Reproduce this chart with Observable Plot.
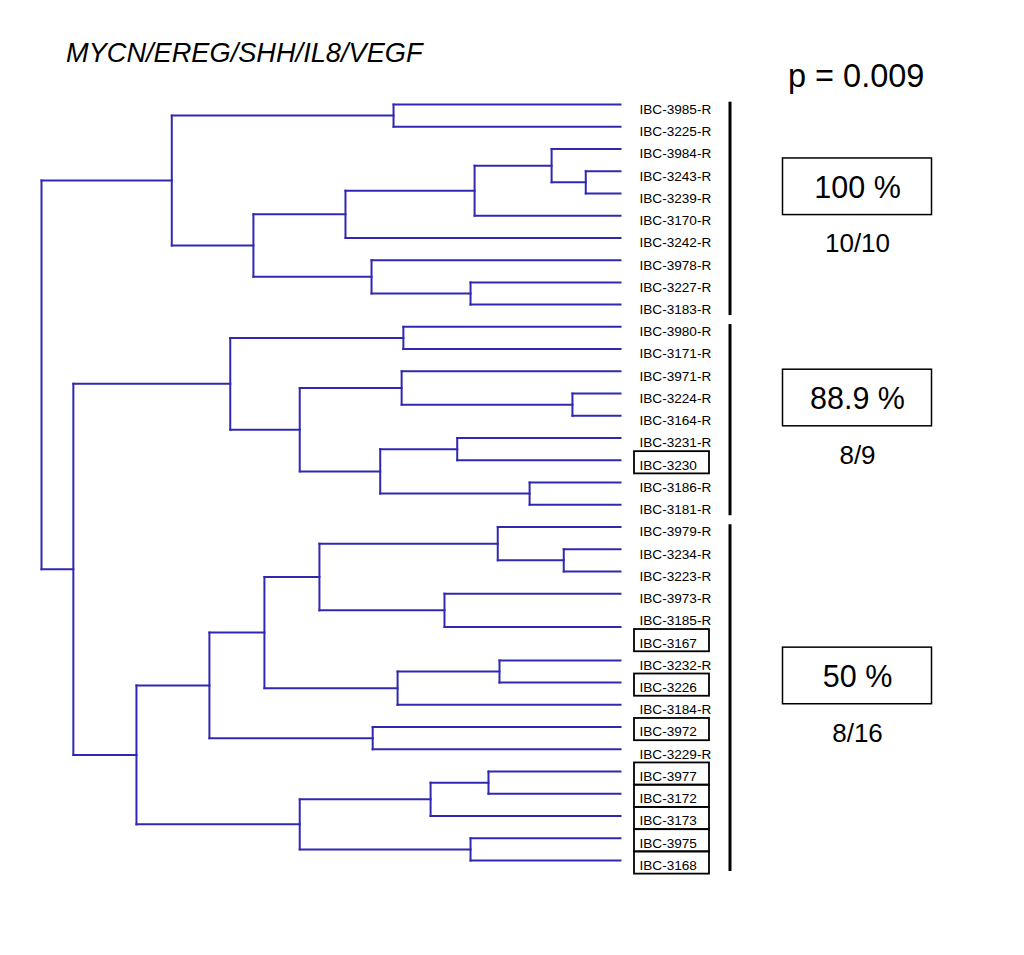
<!DOCTYPE html>
<html>
<head>
<meta charset="utf-8">
<script src="https://cdn.jsdelivr.net/npm/d3@7"></script>
<script src="https://cdn.jsdelivr.net/npm/@observablehq/plot@0.6"></script>
<style>
  html, body { margin: 0; padding: 0; background: #fff; }
  #wrap { position: relative; width: 1024px; height: 955px; font-family: "Liberation Sans", Arial, Helvetica, sans-serif; }
  #title { position: absolute; left: 66px; top: 39px; font-size: 27.2px; line-height: 27px; font-style: italic; color: #000; white-space: nowrap; }
  #pval { position: absolute; left: 788px; top: 60px; font-size: 32.5px; line-height: 32px; color: #000; white-space: nowrap; }
  #chart { position: absolute; left: 0; top: 0; }
</style>
</head>
<body>
<div id="wrap">
  <div id="chart"></div>
  <div id="title">MYCN/EREG/SHH/IL8/VEGF</div>
  <div id="pval">p = 0.009</div>
</div>
<script>
// ---- data ----
const labels = [
  "IBC-3985-R","IBC-3225-R","IBC-3984-R","IBC-3243-R","IBC-3239-R","IBC-3170-R","IBC-3242-R",
  "IBC-3978-R","IBC-3227-R","IBC-3183-R","IBC-3980-R","IBC-3171-R","IBC-3971-R","IBC-3224-R",
  "IBC-3164-R","IBC-3231-R","IBC-3230","IBC-3186-R","IBC-3181-R","IBC-3979-R","IBC-3234-R",
  "IBC-3223-R","IBC-3973-R","IBC-3185-R","IBC-3167","IBC-3232-R","IBC-3226","IBC-3184-R",
  "IBC-3972","IBC-3229-R","IBC-3977","IBC-3172","IBC-3173","IBC-3975","IBC-3168"
];
// dendrogram: [mergeHeight, left, right]; a leaf is the row where its branch is drawn
const topCluster = [7.75,
  [3.92, 0, 1],
  [6.34,
    [4.75, [2.52, [1.19, 2, [0.60, 3, 4]], 5], 6],
    [4.30, 7, [2.59, 8, 9]]
  ]
];
const midCluster = [6.74,
  [3.75, 10, 11],
  [5.54,
    [3.78, 12, [0.83, 13, 14]],
    [4.15, [2.82, 15, 16], [1.57, 17, 18]]
  ]
];
const lowCluster = [8.36,
  [7.10,
    [6.15,
      [5.20, [2.12, 19, [0.98, 20, 21]], [3.04, 22, 23.5]],
      [3.85, [2.09, 25, 26], 27]
    ],
    [4.28, 28, 29]
  ],
  [5.54,
    [3.28, [2.28, 30, 31], 32],
    [2.59, 33, 34]
  ]
];
const tree = [10.0, topCluster, [9.45, midCluster, lowCluster]];

const groupStart = [0, 10, 19];
const groupEnd = [9, 18, 34];
const groupResponders = [10, 8, 8];
const groupTotal = [10, 9, 16];

// ---- build tables ----
const segments = [];
function walk(node) {
  if (typeof node === "number") return {h: 0, y: node};
  const [h, a, b] = node;
  const A = walk(a), B = walk(b);
  segments.push({x1: h, y1: A.y, x2: h, y2: B.y});
  segments.push({x1: h, y1: A.y, x2: A.h, y2: A.y});
  segments.push({x1: h, y1: B.y, x2: B.h, y2: B.y});
  return {h, y: (A.y + B.y) / 2};
}
walk(tree);

const leafRows = labels.map((name, i) => ({name, row: i, boxed: !name.endsWith("-R")}));
const groups = groupStart.map((s, i) => ({
  start: s, end: groupEnd[i], mid: (s + groupEnd[i]) / 2,
  pct: +(groupResponders[i] / groupTotal[i] * 100).toFixed(1) + " %",
  frac: groupResponders[i] + "/" + groupTotal[i]
}));

// ---- layout (pixels) ----
const W = 1024, H = 955;
const xDomain = [10, 0], xRange = [41, 620];
const yDomain = [0, 34], yRange = [104, 860];
const xs = d3.scaleLinear(xDomain, xRange);
const rowPx = (yRange[1] - yRange[0]) / (yDomain[1] - yDomain[0]);
const px = p => xs.invert(p);
const rows = p => p / rowPx;

const chart = Plot.plot({
  width: W, height: H, margin: 0,
  style: {fontFamily: '"Liberation Sans", Arial, Helvetica, sans-serif', background: "transparent", overflow: "visible"},
  x: {domain: xDomain, range: xRange, axis: null},
  y: {domain: yDomain, range: yRange, axis: null},
  marks: [
    Plot.link(segments, {x1: "x1", y1: "y1", x2: "x2", y2: "y2", stroke: "#3128b2", strokeWidth: 2, strokeLinecap: "square"}),
    Plot.rect(leafRows.filter(d => d.boxed), {
      x1: px(634), x2: px(709),
      y1: d => d.row - 0.5 + rows(2.5), y2: d => d.row + 0.5 + rows(2.5),
      fill: "none", stroke: "#000", strokeWidth: 1.8
    }),
    Plot.text(leafRows, {x: 0, y: "row", text: "name", textAnchor: "start", dx: 19, dy: 5, fontSize: 13.6, fill: "#000"}),
    Plot.ruleX(groups, {x: px(729.5), y1: d => d.start - rows(2.3), y2: d => d.end + rows(11), stroke: "#000", strokeWidth: 3}),
    Plot.rect(groups, {
      x1: px(782.5), x2: px(931.5),
      y1: d => d.mid - 0.8 - rows(28.3), y2: d => d.mid - 0.8 + rows(28.3),
      fill: "none", stroke: "#000", strokeWidth: 1.5
    }),
    Plot.text(groups, {x: px(857), y: d => d.mid - 0.8 + rows(1.5), text: "pct", fontSize: 30.5, fill: "#000"}),
    Plot.text(groups, {x: px(857), y: d => d.mid - 0.8 + rows(57.4), text: "frac", fontSize: 26, fill: "#000"})
  ]
});
document.getElementById("chart").appendChild(chart);
</script>
</body>
</html>
